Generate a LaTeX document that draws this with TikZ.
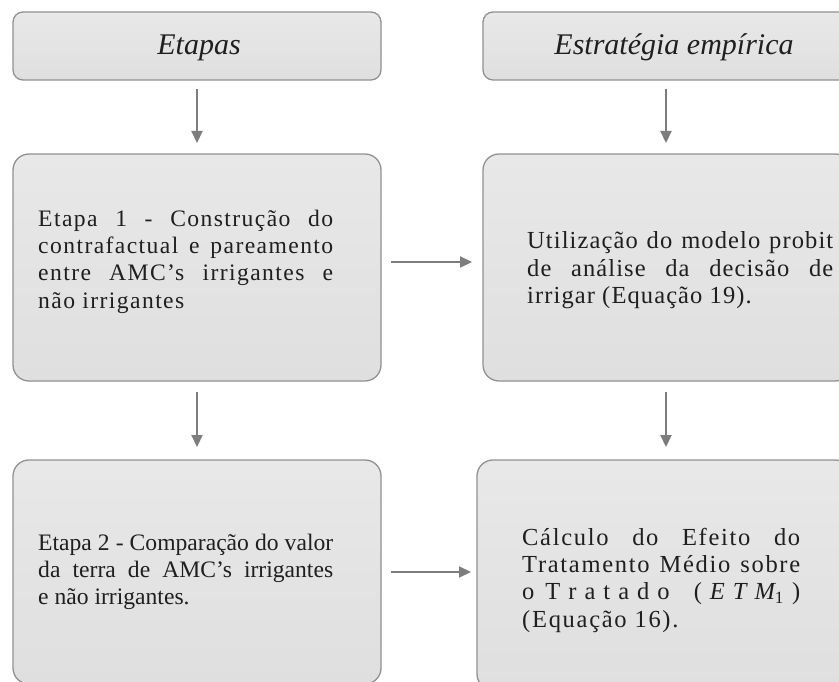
\documentclass[tikz,border=0pt]{standalone}
\usepackage{fontspec}
\setmainfont{Liberation Serif}
\newfontfamily\wideleft[LetterSpace=6]{Liberation Serif}
\newfontfamily\widemid[LetterSpace=4.5]{Liberation Serif}
\newfontfamily\widebot[LetterSpace=7]{Liberation Serif}
\usetikzlibrary{arrows.meta}
\definecolor{boxtop}{RGB}{232,232,232}
\definecolor{boxbot}{RGB}{223,223,223}
\definecolor{boxline}{RGB}{145,145,145}
\definecolor{arrowc}{RGB}{125,125,125}
\begin{document}
\begin{tikzpicture}[x=1pt,y=-1pt,
  panel/.style={draw=boxline, line width=1.3pt, top color=boxtop, bottom color=boxbot,
    rounded corners=#1, inner sep=0pt, outer sep=0pt},
  titletxt/.style={inner sep=0pt, anchor=base, font=\fontsize{30}{32}\selectfont\itshape, text=black!88},
  bodytxt/.style={inner sep=0pt, anchor=base west, text=black!88},
  arr/.style={draw=arrowc, line width=2.2pt, -{Triangle[length=12pt,width=11pt]}}
]
\clip (0,0) rectangle (839,682);
\fill[white] (0,0) rectangle (839,682);

% boxes
\node[panel=10pt, minimum width=368pt, minimum height=68pt] (h1) at (197,46) {};
\node[panel=10pt, minimum width=368pt, minimum height=68pt] (h2) at (667,46) {};
\node[panel=16pt, minimum width=368pt, minimum height=227pt] (m1) at (197,267.5) {};
\node[panel=16pt, minimum width=368pt, minimum height=227pt] (m2) at (667,267.5) {};
\node[panel=16pt, minimum width=368pt, minimum height=224pt] (b1) at (197,572) {};
\node[panel=16pt, minimum width=374pt, minimum height=230pt] (b2) at (664,575) {};

% titles
\node[titletxt] (th1) at (199,55) {Etapas};
\node[titletxt] (th2) at (674,55) {Estratégia empírica};

% body texts
\node[bodytxt] (tm1) at (38,226) {\parbox[t]{295pt}{\wideleft\fontsize{23.6}{27.4}\selectfont
  \makebox[\linewidth][s]{Etapa 1 - Construção do}\\
  \makebox[\linewidth][s]{contrafactual e pareamento}\\
  \makebox[\linewidth][s]{entre AMC’s irrigantes e}\\
  não irrigantes}};

\node[bodytxt] (tm2) at (527,249) {\parbox[t]{306pt}{\widemid\fontsize{24.5}{27.4}\selectfont
  \makebox[\linewidth][s]{Utilização do modelo probit}\\
  \makebox[\linewidth][s]{de análise da decisão de}\\
  irrigar (Equação 19).}};

\node[bodytxt] (tb1) at (38,550) {\parbox[t]{295pt}{\fontsize{23.6}{27.4}\selectfont
  \makebox[\linewidth][s]{Etapa 2 - Comparação do valor}\\
  \makebox[\linewidth][s]{da terra de AMC’s irrigantes}\\
  e não irrigantes.}};

\node[bodytxt] (tb2) at (522,545) {\parbox[t]{278pt}{\widebot\fontsize{24.5}{27.4}\selectfont
  \makebox[\linewidth][s]{Cálculo do Efeito do}\\
  \makebox[\linewidth][s]{Tratamento Médio sobre}\\
  \hbox to \linewidth{\rmfamily o\hspace{3pt}\hfill T\hfill r\hfill a\hfill t\hfill a\hfill d\hfill o\hfill\hfill\hfill (\hfill{\itshape E}\hfill{\itshape T}\hfill{\itshape M}\textsubscript{1}\hfill)}\\
  (Equação 16).}};

% connectors
\draw[arr, shorten <=9pt, shorten >=11pt] (h1.south) -- (m1.north);
\draw[arr, shorten <=9pt, shorten >=11pt] ([xshift=-1pt]h2.south) -- ([xshift=-1pt]m2.north);
\draw[arr, shorten <=11pt, shorten >=13pt] (m1.south) -- (b1.north);
\draw[arr, shorten <=11pt, shorten >=13pt] ([xshift=-1pt]m2.south) -- ([xshift=-1pt]m2.south |- b2.north);
\draw[arr, shorten <=10pt, shorten >=11pt] ([yshift=5.5pt]m1.east) -- ([yshift=5.5pt]m2.west);
\draw[arr, shorten <=10pt, shorten >=6pt] (b1.east) -- (b1.east -| b2.west);
\end{tikzpicture}
\end{document}
